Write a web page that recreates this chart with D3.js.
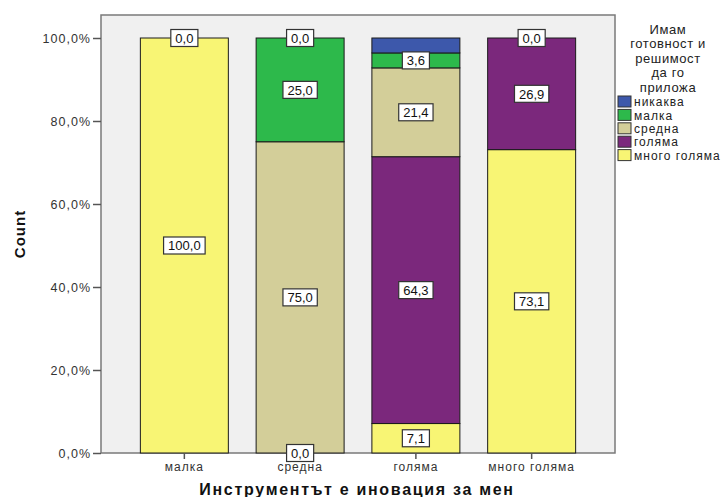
<!DOCTYPE html>
<html>
<head>
<meta charset="utf-8">
<script src="https://cdn.jsdelivr.net/npm/d3@7"></script>
<style>
  html, body { margin: 0; padding: 0; background: #ffffff; }
  svg { display: block; font-family: "Liberation Sans", Arial, sans-serif; }
</style>
</head>
<body>
<svg id="chart" width="728" height="497"></svg>
<script>
// Categories on the x axis
const categories = ["малка", "средна", "голяма", "много голяма"];

// Percent of each group, per answer (null = no segment in that bar)
const valuesMnogoGolyama = [100.0, 0.0, 7.1, 73.1];
const valuesGolyama      = [null, null, 64.3, 26.9];
const valuesSredna       = [null, 75.0, 21.4, null];
const valuesMalka        = [0.0, 25.0, 3.6, 0.0];
const valuesNikakva      = [null, 0.0, 3.6, null];

// Legend order (top to bottom) and series names
const seriesNames = ["никаква", "малка", "средна", "голяма", "много голяма"];
const seriesColors = ["#3D58AB", "#2DB94B", "#D3CE99", "#7B287C", "#F8F574"];

// Segments whose value label is not printed
const hiddenLabels = [["никаква", "голяма"]];

// Y axis ticks
const yTicks = [0, 20, 40, 60, 80, 100];

const legendTitle = ["Имам", "готовност и", "решимост", "да го", "приложа"];
const xTitle = "Инструментът е иновация за мен";
const yTitle = "Count";

const seriesValues = {
  "никаква": valuesNikakva,
  "малка": valuesMalka,
  "средна": valuesSredna,
  "голяма": valuesGolyama,
  "много голяма": valuesMnogoGolyama
};
const colorOf = d3.scaleOrdinal().domain(seriesNames).range(seriesColors);

const svg = d3.select("#chart");
const frame = { left: 101, top: 15, right: 615, bottom: 453 };

const x = d3.scaleBand()
  .domain(categories)
  .range([frame.left, frame.right])
  .paddingInner(0.24)
  .paddingOuter(0.34);

const y = d3.scaleLinear().domain([0, 100]).range([453, 38]);

const fmt = v => d3.format(".1f")(v).replace(".", ",");

// Plot background
svg.append("rect")
  .attr("x", frame.left).attr("y", frame.top)
  .attr("width", frame.right - frame.left).attr("height", frame.bottom - frame.top)
  .attr("fill", "#F0F0F0")
  .attr("stroke", "#7a7a7a").attr("stroke-width", 1.5);

// Build stacked segments, bottom to top
const stackOrder = seriesNames.slice().reverse();
const segments = [];
categories.forEach((cat, i) => {
  let base = 0;
  stackOrder.forEach(name => {
    const v = seriesValues[name][i];
    if (v === null) return;
    segments.push({ cat, name, v, y0: base, y1: base + v });
    base += v;
  });
});

// Segment rectangles
svg.append("g").selectAll("rect")
  .data(segments)
  .join("rect")
  .attr("x", d => x(d.cat))
  .attr("width", x.bandwidth())
  .attr("y", d => y(d.y1))
  .attr("height", d => y(d.y0) - y(d.y1))
  .attr("fill", d => colorOf(d.name))
  .attr("stroke", "#1a1a1a")
  .attr("stroke-width", d => d.v === 0 ? 2 : 1);

// Y axis
const yAxis = d3.axisLeft(y)
  .tickValues(yTicks)
  .tickFormat(d => fmt(d) + "%")
  .tickSize(8)
  .tickPadding(2);
const yg = svg.append("g").attr("transform", `translate(${frame.left},0)`).call(yAxis);
yg.select(".domain").remove();
yg.selectAll(".tick line").attr("stroke", "#555").attr("stroke-width", 1.5);
yg.selectAll(".tick text").attr("fill", "#333")
  .style("font-size", "12.5px").style("letter-spacing", "1px");

// X axis
const xAxis = d3.axisBottom(x).tickSize(6).tickPadding(3);
const xg = svg.append("g").attr("transform", `translate(0,${frame.bottom})`).call(xAxis);
xg.select(".domain").remove();
xg.selectAll(".tick line").attr("stroke", "#555").attr("stroke-width", 1.5);
xg.selectAll(".tick text").attr("fill", "#333")
  .style("font-size", "12px").style("letter-spacing", "1px");

// Value labels
const isHidden = d => hiddenLabels.some(h => h[0] === d.name && h[1] === d.cat);
const labelData = segments.filter(d => !isHidden(d));
const lg = svg.append("g").selectAll("g")
  .data(labelData)
  .join("g")
  .attr("transform", d => `translate(${x(d.cat) + x.bandwidth() / 2},${y((d.y0 + d.y1) / 2)})`);
lg.append("text")
  .attr("text-anchor", "middle")
  .attr("dy", "0.36em")
  .attr("fill", "#111")
  .style("font-size", "13px")
  .text(d => fmt(d.v));
lg.each(function() {
  const g = d3.select(this);
  const bb = g.select("text").node().getBBox();
  g.insert("rect", "text")
    .attr("x", bb.x - 4.5).attr("y", -8.5)
    .attr("width", bb.width + 9).attr("height", 17)
    .attr("fill", "#ffffff")
    .attr("stroke", "#333").attr("stroke-width", 1.2);
});

// Axis titles
svg.append("text")
  .attr("x", 357).attr("y", 495)
  .attr("text-anchor", "middle")
  .attr("fill", "#111")
  .style("font-size", "16px").style("font-weight", "bold")
  .style("letter-spacing", "1.7px")
  .text(xTitle);

svg.append("text")
  .attr("transform", "translate(25,234) rotate(-90)")
  .attr("text-anchor", "middle")
  .attr("fill", "#111")
  .style("font-size", "15px").style("font-weight", "bold")
  .style("letter-spacing", "1px")
  .text(yTitle);

// Legend
const legend = svg.append("g");
legend.selectAll("text.title")
  .data(legendTitle)
  .join("text")
  .attr("class", "title")
  .attr("x", 668)
  .attr("y", (d, i) => 34 + i * 14.4)
  .attr("text-anchor", "middle")
  .attr("fill", "#222")
  .style("font-size", "13px")
  .style("letter-spacing", "0.6px")
  .text(d => d);

const items = legend.selectAll("g.item")
  .data(seriesNames)
  .join("g")
  .attr("class", "item")
  .attr("transform", (d, i) => `translate(618,${96 + i * 13.4})`);
items.append("rect")
  .attr("width", 13).attr("height", 11)
  .attr("fill", d => colorOf(d))
  .attr("stroke", "#333").attr("stroke-width", 1);
items.append("text")
  .attr("x", 16).attr("y", 6)
  .attr("dy", "0.35em")
  .attr("fill", "#222")
  .style("font-size", "12px")
  .style("letter-spacing", "1px")
  .text(d => d);
</script>
</body>
</html>
